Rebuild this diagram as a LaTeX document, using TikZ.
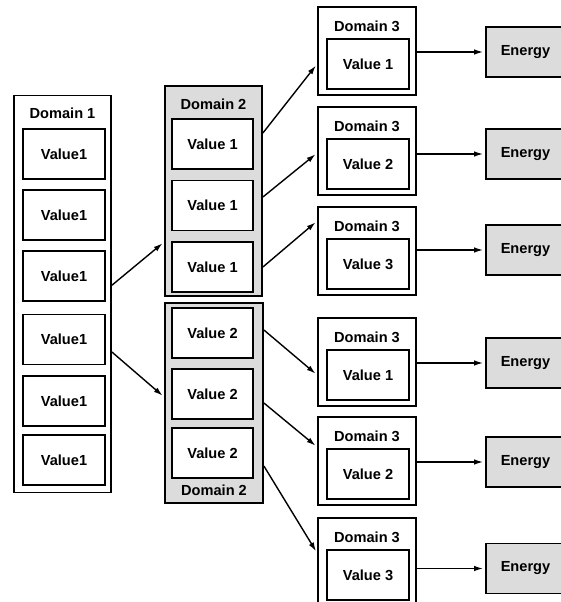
\documentclass[tikz,border=0pt]{standalone}
\usepackage{fontspec}
\setmainfont{Liberation Sans}
\usetikzlibrary{arrows.meta}
\definecolor{cFill}{HTML}{DCDCDC}

\begin{document}
\begin{tikzpicture}[x=1pt, y=-1pt,
  dom/.style={draw, line width=1.8pt, minimum width=97pt},
  val/.style={draw, line width=1.8pt, fill=white, minimum width=82pt, minimum height=50pt, font=\bfseries\fontsize{14.6}{16}\selectfont},
  lbl/.style={font=\bfseries\fontsize{14.6}{16}\selectfont},
  nrg/.style={draw, line width=1.8pt, fill=cFill, minimum width=79pt, minimum height=50pt, font=\bfseries\fontsize{14.6}{16}\selectfont},
  link/.style={-{Latex[length=9pt, width=5.5pt]}, line width=1.4pt, shorten >=2pt}
]
\useasboundingbox (0,0) rectangle (561,602);
\clip (0,0) rectangle (561,602);

% first domain, six values
\node[dom, minimum height=397pt] (d1) at (62.5,294) {};
\node[lbl] (d1l) at (62.5,113) {Domain 1};
\foreach \i/\y in {1/154,2/215,3/276,4/339.5,5/401,6/460} \node[val] (a\i) at (64,\y) {Value1};

% second domain, split in two groups
\node[dom, fill=cFill, minimum height=210pt] (d2a) at (213.5,191) {};
\node[lbl] (d2al) at (213.5,104) {Domain 2};
\foreach \i/\y in {1/144,2/205.5,3/267} \node[val, minimum width=81pt] (b\i) at (212.5,\y) {Value 1};

\node[dom, fill=cFill, minimum width=98pt, minimum height=200pt] (d2b) at (214,403) {};
\node[lbl] (d2bl) at (214,490) {Domain 2};
\foreach \i/\y in {4/333,5/394,6/453} \node[val, minimum width=81pt] (b\i) at (212.5,\y) {Value 2};

% third domain and energies
\foreach \i/\t/\v/\e in {1/7/1/52,2/107/2/154,3/207/3/250,4/318/1/363,5/417/2/462,6/518/3/568.5} {
  \node[dom, minimum width=98pt, minimum height=88pt] (c\i) at (367,\t+44) {};
  \node[lbl] (c\i l) at (367,\t+19) {Domain 3};
  \node[val] (w\i) at (368,\t+57) {Value \v};
  \node[nrg] (e\i) at (525.5,\e) {Energy};
  \draw[link] (c\i.east |- e\i.west) -- (e\i.west);
}

\draw[link] ([yshift=8.75pt]d1.east) -- ([yshift=-51pt]d2a.west);
\draw[link] ([yshift=-58pt]d1.east) -- ([yshift=6pt]d2b.west);

\foreach \s/\j/\d in {58/1/-13,-6/2/-2,-76/3/30} \draw[link] ([yshift=\s pt]d2a.east) -- ([yshift=\d pt]c\j.west);
\foreach \s/\j/\d in {73/4/-13,0/5/14,-63/6/9} \draw[link] ([yshift=\s pt]d2b.east) -- ([yshift=\d pt]c\j.west);
\end{tikzpicture}
\end{document}
